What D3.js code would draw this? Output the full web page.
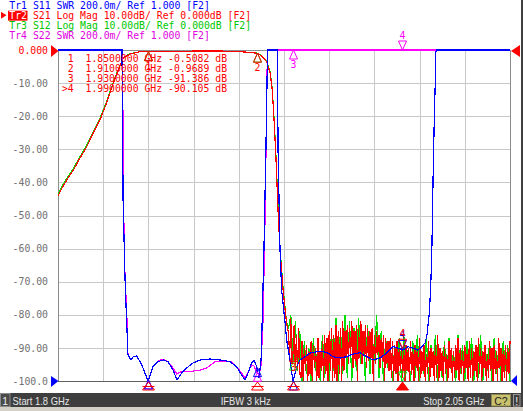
<!DOCTYPE html>
<html><head><meta charset="utf-8">
<script src="https://cdn.jsdelivr.net/npm/d3@7"></script>
<style>
html,body{margin:0;padding:0;background:#fff;overflow:hidden}
svg{display:block}
text{white-space:pre}
</style></head><body>
<svg id="c" width="523" height="411"></svg>
<script>
// ---------- data ----------
const freqStart = 1.8, freqStop = 2.05, freqDiv = 0.025;
const yTickValues = [0,-10,-20,-30,-40,-50,-60,-70,-80,-90,-100];
const yTickLabels = ["0.000","-10.00","-20.00","-30.00","-40.00","-50.00","-60.00","-70.00","-80.00","-90.00","-100.0"];

const headerLabels = ["Tr1","Tr2","Tr3","Tr4"];
const headerParams = [" S11 SWR 200.0m/ Ref 1.000 [F2]"," S21 Log Mag 10.00dB/ Ref 0.000dB [F2]"," S12 Log Mag 10.00dB/ Ref 0.000dB [F2]"," S22 SWR 200.0m/ Ref 1.000 [F2]"];

const markerFreqs = [1.85, 1.91, 1.93, 1.99];
const markerNames = ["1","2","3","4"];
const markerRows = [" 1  1.8500000 GHz -0.5082 dB"," 2  1.9100000 GHz -0.9689 dB"," 3  1.9300000 GHz -91.386 dB",">4  1.9900000 GHz -90.105 dB"];

// S11 (SWR)
const s11Freq = [1.8000,1.8348,1.8354,1.8360,1.8371,1.8376,1.8387,1.8404,1.8415,1.8435,1.8454,1.8470,1.8498,1.8525,1.8553,1.8581,1.8608,1.8636,1.8658,1.8684,1.8712,1.8747,1.8785,1.8841,1.8896,1.8951,1.8988,1.9016,1.9034,1.9051,1.9071,1.9084,1.9099,1.9112,1.9123,1.9128,1.9139,1.9150,1.9159,1.9162,1.9211,1.9214,1.9217,1.9228,1.9237,1.9256,1.9265,1.9283,1.9296,1.9300,1.9320,1.9338,1.9366,1.9394,1.9431,1.9466,1.9493,1.9521,1.9560,1.9597,1.9632,1.9670,1.9707,1.9742,1.9781,1.9818,1.9853,1.9881,1.9908,1.9936,1.9963,1.9991,2.0012,2.0030,2.0041,2.0049,2.0054,2.0062,2.0067,2.0071,2.0076,2.0082,2.0086,2.0090,2.0094,2.0500];
const s11Swr  = [5.2,3.6,3.0,2.09,1.61,1.46,1.157,1.127,1.145,1.151,1.117,1.079,1.0,1.086,1.117,1.127,1.117,1.066,1.006,1.048,1.079,1.109,1.127,1.133,1.127,1.117,1.086,1.036,1.006,1.048,1.109,1.127,1.086,1.018,1.127,1.308,1.79,2.40,3.0,3.5,3.5,3.0,2.40,1.79,1.55,1.35,1.248,1.127,1.026,1.0,1.086,1.127,1.147,1.169,1.177,1.177,1.169,1.147,1.139,1.147,1.163,1.171,1.147,1.127,1.139,1.169,1.207,1.199,1.187,1.207,1.199,1.187,1.207,1.23,1.278,1.368,1.41,1.59,1.75,1.99,2.32,2.62,2.78,2.99,3.6,4.5];

// S22 (SWR)
const s22Freq = [1.8000,1.8351,1.8357,1.8362,1.8371,1.8379,1.8387,1.8404,1.8415,1.8435,1.8454,1.8470,1.8498,1.8525,1.8553,1.8581,1.8608,1.8636,1.8657,1.8675,1.8712,1.8747,1.8785,1.8822,1.8852,1.8868,1.8913,1.8961,1.8988,1.9016,1.9034,1.9051,1.9071,1.9084,1.9099,1.9112,1.9123,1.9134,1.9145,1.9153,1.9158,1.9162,2.0500];
const s22Swr  = [5.0,3.5,3.0,2.09,1.61,1.46,1.157,1.127,1.145,1.151,1.117,1.079,1.0,1.086,1.120,1.133,1.117,1.079,1.042,1.054,1.056,1.060,1.066,1.079,1.103,1.117,1.121,1.117,1.086,1.048,1.018,1.054,1.097,1.091,1.054,1.036,1.097,1.368,1.97,2.58,3.0,3.6,4.0];

// S21 (dB) smooth part + noise floor
const s21Freq = [1.8000,1.8022,1.8048,1.8085,1.8122,1.8159,1.8195,1.8232,1.8269,1.8306,1.8334,1.8361,1.8398,1.8454,1.8500,1.8675,1.8896,1.9034,1.9073,1.9100,1.9127,1.9154,1.9173,1.9185,1.9195,1.9206,1.9217,1.9228,1.9245,1.9261,1.9270];
const s21Db   = [-44.1,-41.7,-39.3,-36.3,-32.6,-29.2,-25.1,-21.1,-16.0,-10.0,-6.0,-2.4,-1.2,-0.5,-0.508,-0.35,-0.3,-0.6,-0.8,-0.969,-1.8,-3.5,-6.9,-12.1,-21.1,-33.2,-48.3,-60.4,-72.5,-81,-84.6];
const noiseStart = 1.9275, s21NoiseStep = 0.000625, s12NoiseStep = 0.00125;
const s21Noise = [
-85,-93,-81,-95,-91.4,-83,-96,-86,-97,-84,-98,
-99,-88,-100,-90,-97,-89,-100,-91,-98,-88,
-100,-89,-96,-90,-100,-87,-99,-91,-97,-88,
-100,-86,-98,-87,-100,-85,-97,-84,-100,-86,
-99,-83,-100,-85,-98,-84,-100,-82,-97,-85,
-93,-83,-95,-84,-92,-82,-96,-85,-94,-83,
-100,-84,-93,-82,-95,-85,-92,-83,-96,-84,
-94,-85,-93,-84,-100,-86,-95,-85,-92,-86,
-96,-87,-94,-86,-100,-87,-95,-88,-97,-87,
-99,-88,-100,-89,-98,-88,-100,-90,-97,-90.1,
-99,-91,-100,-89,-97,-90,-100,-88,-98,-91,
-100,-89,-96,-90,-100,-87,-99,-91,-97,-89,
-100,-92,-98,-88,-100,-90,-96,-91,-100,-89,
-99,-86,-100,-90,-97,-91,-100,-89,-98,-92,
-100,-88,-96,-90,-100,-91,-99,-89,-97,-87,
-100,-90,-98,-91,-100,-89,-96,-92,-100,-88,
-99,-90,-100,-91,-97,-89,-100,-87,-98,-90,
-100,-91,-96,-89,-100,-92,-99,-88,-97,-90,
-100,-89,-98,-91,-100,-87,-96,-90,-100,-91,
-99,-89,-100,-90,-98,-88];

// S12 (dB)
const s12Freq = [1.8000,1.8022,1.8048,1.8085,1.8122,1.8159,1.8195,1.8232,1.8269,1.8306,1.8334,1.8361,1.8398,1.8454,1.8500,1.8675,1.8896,1.9034,1.9073,1.9100,1.9127,1.9154,1.9173,1.9185,1.9195,1.9206,1.9217,1.9228,1.9245,1.9261,1.9270];
const s12Db   = [-43.5,-41.2,-38.8,-35.8,-32.2,-28.7,-24.7,-20.7,-15.6,-9.7,-5.8,-2.3,-1.1,-0.5,-0.5,-0.35,-0.3,-0.6,-0.8,-0.95,-1.7,-3.3,-6.5,-11.8,-20.6,-32.5,-47.5,-59.8,-72,-80.5,-84];
const s12Noise = [
-84,-80,-94,-82,-96,-85,
-100,-88,-98,-90,-100,-87,-97,-89,-100,-86,-99,-88,-100,-85,-97,-81,-100,-84,-98,-80,
-99,-82,-100,-84,-97,-81,-95,-85,-100,-83,-98,-86,-94,-80,-99,-85,-100,-87,-96,
-88,-100,-89,-98,-87,-100,-86,-97,-90,-100,
-88,-99,-86,-100,-91,-98,-87,-100,-89,-96,
-86,-100,-90,-99,-88,-100,-87,-97,-91,-100,
-86,-98,-89,-100,-88,-96,-87,-100,-90,-99,
-86,-100,-89,-97,-88,-100,-87,-98,-90,-100,
-88,-97,-89,-100];

// ---------- drawing ----------
const svg = d3.select('#c');
const P = {l:58, r:510, t:50, b:381};
const MONO = "'DejaVu Sans Mono', 'Liberation Mono', monospace";
const SANS = "'Liberation Sans', Arial, sans-serif";
const C = {blue:"#0000ff", red:"#ff0000", green:"#00e000", magenta:"#ff00ff", grid:"#c8c8c8", axis:"#8c8c8c"};

svg.append('rect').attr('width',523).attr('height',411).attr('fill','#fff');

const x = d3.scaleLinear().domain([freqStart, freqStop]).range([P.l, P.r]);
const yDb = d3.scaleLinear().domain([-100, 0]).range([P.b, P.t]).clamp(true);
const ySwr = d3.scaleLinear().domain([1, 3]).range([P.b, P.t]).clamp(true);

// grid
const g = svg.append('g');
const vTicks = d3.range(1, 10).map(k => freqStart + k*freqDiv);
g.selectAll('line.v').data(vTicks).join('line')
  .attr('x1', d => Math.round(x(d))+0.5).attr('x2', d => Math.round(x(d))+0.5)
  .attr('y1', P.t).attr('y2', P.b).attr('stroke', C.grid);
g.selectAll('line.h').data(yTickValues.slice(1,-1)).join('line')
  .attr('y1', d => Math.round(yDb(d))+0.5).attr('y2', d => Math.round(yDb(d))+0.5)
  .attr('x1', P.l).attr('x2', P.r).attr('stroke', C.grid);
// frame
g.append('line').attr('x1',P.l+0.5).attr('x2',P.l+0.5).attr('y1',P.t).attr('y2',P.b).attr('stroke',C.axis);
g.append('line').attr('x1',P.r+0.5).attr('x2',P.r+0.5).attr('y1',P.t).attr('y2',P.b).attr('stroke',C.axis);
g.append('line').attr('x1',P.l).attr('x2',P.r).attr('y1',P.t+0.5).attr('y2',P.t+0.5).attr('stroke',C.axis);
g.append('line').attr('x1',P.l).attr('x2',P.r+1).attr('y1',P.b+0.5).attr('y2',P.b+0.5).attr('stroke','#606060');

// traces
const s11 = s11Freq.map((f,i)=>[f, s11Swr[i]]);
const s22 = s22Freq.map((f,i)=>[f, s22Swr[i]]);
const s21 = s21Freq.map((f,i)=>[f, s21Db[i]]).concat(s21Noise.map((v,i)=>[noiseStart + i*s21NoiseStep, v]));
const s12 = s12Freq.map((f,i)=>[f, s12Db[i]]).concat(s12Noise.map((v,i)=>[noiseStart + i*s12NoiseStep, v]));

const lineDb = d3.line().x(d=>x(d[0])).y(d=>yDb(d[1]));
const lineSwr = d3.line().x(d=>x(d[0])).y(d=>ySwr(d[1]));
const tr = svg.append('g').attr('fill','none').attr('stroke-width',1.2).attr('shape-rendering','crispEdges');
tr.append('path').attr('d', lineDb(s12)).attr('stroke', C.green);
tr.append('path').attr('d', lineDb(s21)).attr('stroke', C.red);
tr.append('path').attr('d', lineSwr(s22)).attr('stroke', C.magenta);
tr.append('path').attr('d', lineSwr(s11)).attr('stroke', C.blue);

// markers
function valueAt(data, f){
  const i = d3.bisector(d=>d[0]).left(data, f);
  if (i <= 0) return data[0][1];
  if (i >= data.length) return data[data.length-1][1];
  const a = data[i-1], b = data[i];
  return a[1] + (b[1]-a[1])*(f-a[0])/(b[0]-a[0]);
}
const mk = svg.append('g').attr('font-family', MONO).attr('font-size','9.8px');
function drawMarkers(data, yScale, color, showLabels){
  markerFreqs.forEach((f,i)=>{
    const mx = Math.round(x(f))+0.5;
    const my = yScale(valueAt(data, f));
    const active = i === markerFreqs.length-1;
    if (active){
      mk.append('path').attr('d',`M${mx},${my} L${mx-4},${my-9} L${mx+4},${my-9} Z`).attr('fill','none').attr('stroke',color);
      if (showLabels) mk.append('text').attr('x',mx).attr('y',my-11).attr('text-anchor','middle').attr('fill',color).text(markerNames[i]);
    } else {
      mk.append('path').attr('d',`M${mx},${my} L${mx-4},${my+9} L${mx+4},${my+9} Z`).attr('fill','none').attr('stroke',color);
      if (showLabels && my + 18 < P.b) mk.append('text').attr('x',mx).attr('y',my+18).attr('text-anchor','middle').attr('fill',color).text(markerNames[i]);
    }
  });
}
drawMarkers(s12, yDb, C.green, false);
drawMarkers(s22, ySwr, C.magenta, true);
drawMarkers(s11, ySwr, C.blue, true);
drawMarkers(s21, yDb, C.red, true);
// stimulus markers on the bottom axis
markerFreqs.forEach((f,i)=>{
  const mx = Math.round(x(f))+0.5;
  const active = i === markerFreqs.length-1;
  svg.append('path').attr('d',`M${mx},${P.b+1} L${mx-6},${P.b+9} L${mx+6},${P.b+9} Z`)
    .attr('fill', active ? C.red : 'none').attr('stroke', C.red);
  if(!active) svg.append('line').attr('x1',mx-6).attr('x2',mx+6).attr('y1',P.b+5.5).attr('y2',P.b+5.5).attr('stroke',C.red);
});

// marker table
const mt = svg.append('g').attr('font-family', MONO).attr('font-size','9.8px').attr('fill', C.red);
markerRows.forEach((r,i)=> mt.append('text').attr('x',61.9).attr('y',61.7 + i*10.2).text(r));

// y labels and reference arrows
const yl = svg.append('g').attr('font-family', MONO).attr('font-size','9.8px').attr('text-anchor','end');
yTickValues.forEach((v,i)=>{
  yl.append('text').attr('x',48).attr('y', yDb(v)+3.6).attr('fill', i===0 ? C.red : '#707070').text(yTickLabels[i]);
});
svg.append('path').attr('d',`M51,${P.t-5} L58.5,${P.t+1} L51,${P.t+7} Z`).attr('fill',C.red);
svg.append('path').attr('d',`M51,${P.b-5} L58.5,${P.b} L51,${P.b+6} Z`).attr('fill',C.blue);
svg.append('path').attr('d',`M520,${P.t-5} L511,${P.t+1} L520,${P.t+7} Z`).attr('fill',C.red);
svg.append('path').attr('d',`M517,${P.b-6} L511,${P.b} L517,${P.b+5} Z`).attr('fill',C.blue);

// header
const hdrColors = [C.blue, C.red, "#00c800", "#e000e0"];
const hd = svg.append('g').attr('font-family', MONO).attr('font-size','9.8px');
headerLabels.forEach((lab,i)=>{
  const yb = 9.4 + i*9.75;
  if (i===1){
    hd.append('rect').attr('x',8).attr('y',yb-8.5).attr('width',19.5).attr('height',10).attr('fill',C.red);
    hd.append('path').attr('d',`M1,${yb-7.5} L6.5,${yb-4} L1,${yb-0.5} Z`).attr('fill',C.red);
  }
  const t = hd.append('text').attr('x',9.3).attr('y',yb);
  t.append('tspan').attr('fill', i===1 ? '#fff' : hdrColors[i]).text(lab);
  t.append('tspan').attr('fill', hdrColors[i]).text(headerParams[i]);
});

// status bar
const sb = svg.append('g');
sb.append('rect').attr('x',0).attr('y',393).attr('width',523).attr('height',14).attr('fill','#3e3e3e');
sb.append('rect').attr('x',0).attr('y',407).attr('width',523).attr('height',4).attr('fill','#d4d0c8');
sb.append('rect').attr('x',0.5).attr('y',393.5).attr('width',9.5).attr('height',13).attr('fill','#4a4a4a').attr('stroke','#8a8a8a');
sb.append('text').attr('x',5.2).attr('y',404.5).attr('text-anchor','middle').attr('font-family',SANS).attr('font-size','10.5px').attr('fill','#eee').text('1');
sb.append('text').attr('x',12.5).attr('y',404.5).attr('font-family',SANS).attr('font-size','10.5px').attr('fill','#e6e6e6')
  .attr('textLength',57).attr('lengthAdjust','spacingAndGlyphs').text('Start 1.8 GHz');
sb.append('text').attr('x',220.7).attr('y',404.5).attr('font-family',SANS).attr('font-size','10.5px').attr('fill','#e6e6e6')
  .attr('textLength',50).attr('lengthAdjust','spacingAndGlyphs').text('IFBW 3 kHz');
sb.append('text').attr('x',423.3).attr('y',404.5).attr('font-family',SANS).attr('font-size','10.5px').attr('fill','#e6e6e6')
  .attr('textLength',61).attr('lengthAdjust','spacingAndGlyphs').text('Stop 2.05 GHz');
sb.append('rect').attr('x',491.5).attr('y',394.5).attr('width',19).attr('height',11.5).attr('fill','#c9c26e').attr('stroke','#8c8650');
sb.append('text').attr('x',501).attr('y',404.5).attr('text-anchor','middle').attr('font-family',SANS).attr('font-size','10.5px').attr('fill','#202020').text('C?');
sb.append('rect').attr('x',513.5).attr('y',394.5).attr('width',6.5).attr('height',11.5).attr('fill','#3e3e3e').attr('stroke','#9a9a9a');
sb.append('text').attr('x',516.8).attr('y',404.5).attr('text-anchor','middle').attr('font-family',SANS).attr('font-size','10.5px').attr('fill','#eee').text('!');
// right window edge
svg.append('rect').attr('x',521).attr('y',0).attr('width',2).attr('height',393).attr('fill','#404040');
</script></body></html>
